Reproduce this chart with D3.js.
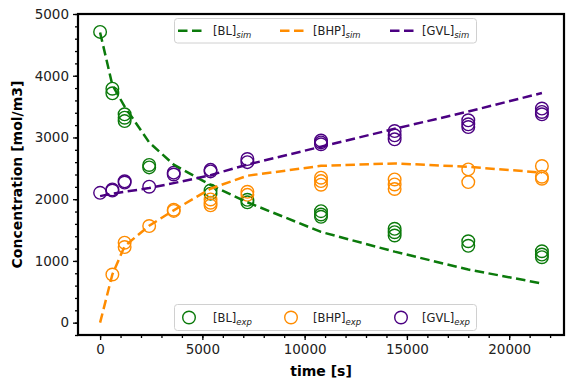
<!DOCTYPE html>
<html><head><meta charset="utf-8">
<script src="https://cdn.jsdelivr.net/npm/d3@7"></script>
<style>body{margin:0;background:#fff}svg{display:block;font-family:"DejaVu Sans",sans-serif}</style>
</head><body><svg id="c" width="573" height="380"></svg>
<script>
const times = [0, 600, 1200, 2400, 3600, 5400, 7200, 10800, 14400, 18000, 21600];
// simulated concentrations
const blSim  = [4700, 3850, 3500, 2920, 2560, 2230, 1950, 1470, 1150, 860, 635];
const bhpSim = [0, 780, 1240, 1570, 1820, 2170, 2380, 2540, 2580, 2525, 2430];
const gvlSim = [2050, 2090, 2120, 2180, 2260, 2390, 2560, 2850, 3140, 3420, 3720];
// experimental replicates per time
const blExp  = [[4710],[3790,3715],[3375,3320,3265],[2555,2515],[],[2140,2090],[1990,1950],[1806,1752,1715],[1520,1465,1412],[1319,1245],[1157,1103,1060]];
const bhpExp = [[],[780],[1295,1225],[1565],[1830,1810],[1996,1942,1900],[2120,2070],[2348,2293,2235],[2320,2239,2165],[2483,2277],[2537,2364,2332]];
const gvlExp = [[2103],[2158,2140],[2290,2270],[2202],[2430,2400],[2475,2450],[2650,2600],[2950,2920,2890],[3104,3034,2970],[3278,3213,3169],[3468,3413,3375]];
const xTicks = [0, 5000, 10000, 15000, 20000];
const yTicks = [0, 1000, 2000, 3000, 4000, 5000];

const colors = {BL:"#0b7a0b", BHP:"#ff8c00", GVL:"#4b0082"};
const series = [
  {name:"BL", sim:blSim, exp:blExp},
  {name:"BHP", sim:bhpSim, exp:bhpExp},
  {name:"GVL", sim:gvlSim, exp:gvlExp}
];

const svg = d3.select("#c");
const L=78, R=564, T=14, B=335;
const x = d3.scaleLinear().domain([-1080, 22680]).range([L, R]);
const y = d3.scaleLinear().domain([-200, 5000]).range([B, T]);

// markers
series.forEach(s=>{
  const pts = [];
  s.exp.forEach((arr,i)=>arr.forEach(v=>pts.push([times[i],v])));
  svg.append("g").selectAll("circle").data(pts).join("circle")
    .attr("cx",d=>x(d[0])).attr("cy",d=>y(d[1])).attr("r",6.3)
    .attr("fill","none").attr("stroke",colors[s.name]).attr("stroke-width",1.4);
});
// sim lines
const line = d3.line().x((d,i)=>x(times[i])).y(d=>y(d));
series.forEach(s=>{
  svg.append("path").datum(s.sim).attr("d",line).attr("fill","none")
    .attr("stroke",colors[s.name]).attr("stroke-width",2.5).attr("stroke-dasharray","9.5,4.5");
});

// axes
const xAxis = d3.axisBottom(x).tickValues(xTicks).tickSize(5).tickPadding(4).tickFormat(d3.format("d"));
const xMinor = d3.axisBottom(x).tickValues(d3.range(0, 23000, 1000)).tickSize(3).tickFormat("");
const yAxis = d3.axisLeft(y).tickValues(yTicks).tickSize(5).tickPadding(4).tickFormat(d3.format("d"));
const yMinor = d3.axisLeft(y).tickValues(d3.range(-200, 5001, 200)).tickSize(3).tickFormat("");
function style(g){g.select(".domain").remove();g.selectAll("line").attr("stroke","#000").attr("stroke-width",1.3);
  g.selectAll("text").attr("font-size","13.5px").attr("fill","#222").attr("font-family","DejaVu Sans");}
svg.append("g").attr("transform",`translate(0,${B})`).call(xMinor).call(style);
svg.append("g").attr("transform",`translate(0,${B})`).call(xAxis).call(style);
svg.append("g").attr("transform",`translate(${L},0)`).call(yMinor).call(style);
svg.append("g").attr("transform",`translate(${L},0)`).call(yAxis).call(style);
svg.append("rect").attr("x",L).attr("y",T).attr("width",R-L).attr("height",B-T)
  .attr("fill","none").attr("stroke","#000").attr("stroke-width",2.2);

svg.append("text").attr("x",(L+R)/2).attr("y",376).attr("text-anchor","middle")
  .attr("font-weight","bold").attr("font-size","14px").text("time [s]");
svg.append("text").attr("transform",`translate(22,${(T+B)/2}) rotate(-90)`).attr("text-anchor","middle")
  .attr("font-weight","bold").attr("font-size","14px").text("Concentration [mol/m3]");

// legends
function legend(yTop, h, kind){
  const g = svg.append("g");
  g.append("rect").attr("x",174.5).attr("y",yTop).attr("width",302).attr("height",h).attr("rx",3)
    .attr("fill","#fff").attr("fill-opacity",0.85).attr("stroke","#d0d0d0").attr("stroke-width",1);
  const cy = yTop + h/2;
  const hx = [178, 280, 390], tx = [213, 313, 422];
  series.forEach((s,i)=>{
    if(kind==="sim"){
      g.append("line").attr("x1",hx[i]).attr("x2",hx[i]+26).attr("y1",cy).attr("y2",cy)
        .attr("stroke",colors[s.name]).attr("stroke-width",2.5).attr("stroke-dasharray","9.5,4.5");
    } else {
      g.append("circle").attr("cx",hx[i]+11).attr("cy",cy).attr("r",6.3).attr("fill","none")
        .attr("stroke",colors[s.name]).attr("stroke-width",1.4);
    }
    const t = g.append("text").attr("x",tx[i]).attr("y",cy+4.5).attr("font-size","11.5px").attr("fill","#222");
    t.append("tspan").text(`[${s.name}]`);
    t.append("tspan").attr("dy",3).attr("font-size","8.5px").attr("font-style","italic").text(kind);
  });
}
legend(18.5, 24.5, "sim");
legend(304.5, 26, "exp");
</script></body></html>
